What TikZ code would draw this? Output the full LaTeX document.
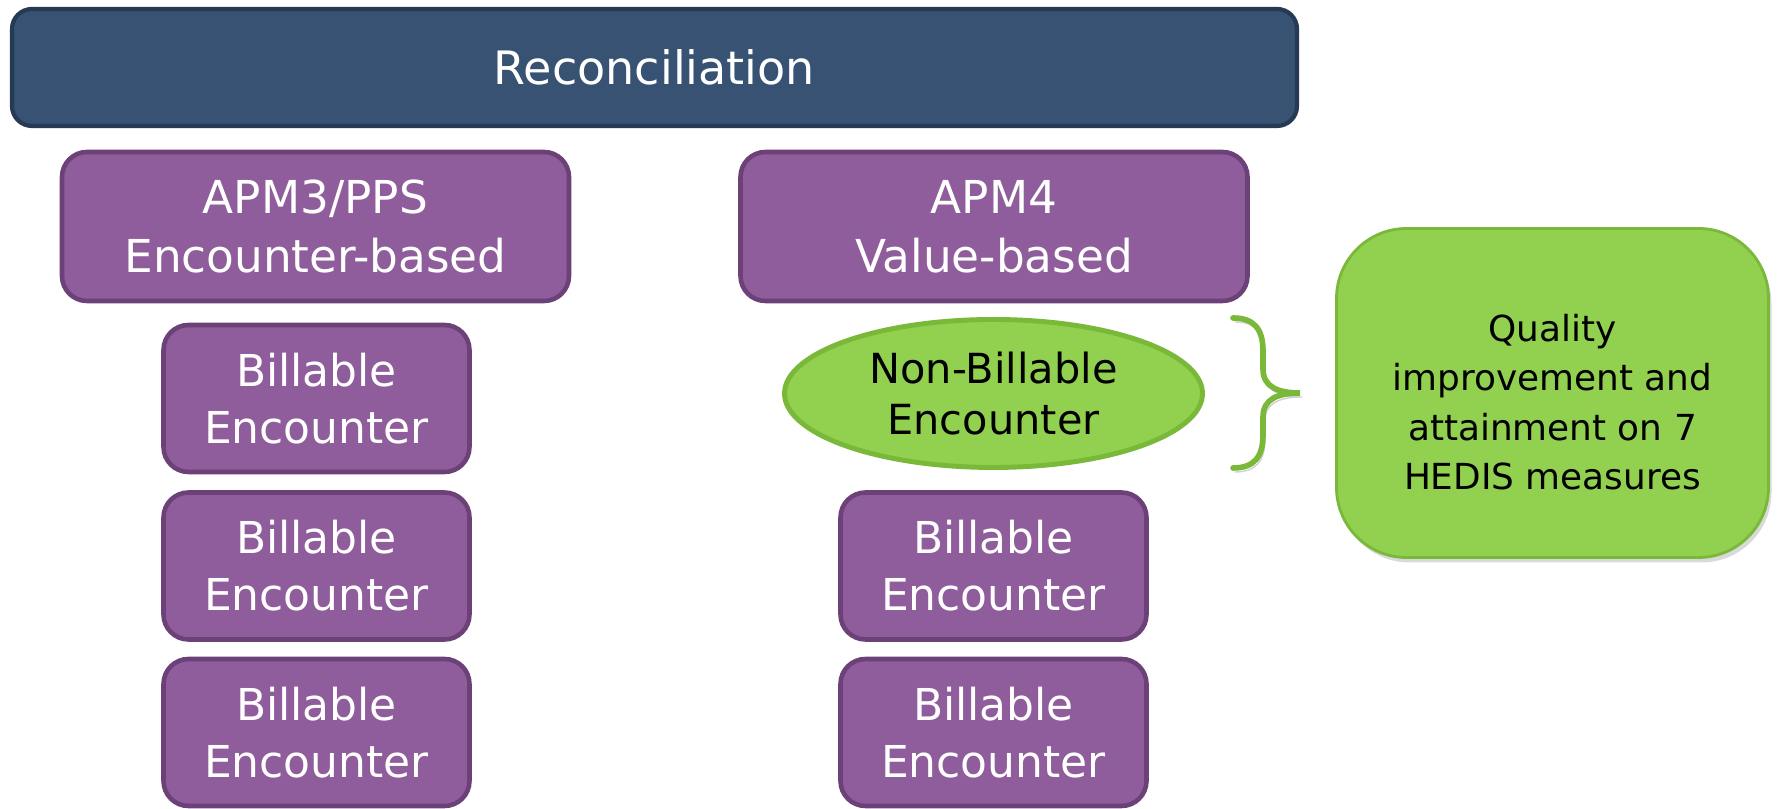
\documentclass[tikz,border=0pt]{standalone}
\usepackage{fontspec}
\setmainfont{DejaVu Sans}
\usetikzlibrary{shapes.geometric, shadows}

\definecolor{reconblue}{HTML}{375273}
\definecolor{reconedge}{HTML}{263A53}
\definecolor{apmpurple}{HTML}{8F5C9C}
\definecolor{apmedge}{HTML}{6B4177}
\definecolor{hedisgreen}{HTML}{92D050}
\definecolor{hedisedge}{HTML}{7AB83A}

\begin{document}
\begin{tikzpicture}[recon/.style = {draw=reconedge, fill=reconblue, line width=1.2pt, rounded corners=0.2cm, text=white, font=\fontsize{13.1}{16}\selectfont, minimum width=12.85cm, minimum height=1.17cm},
        apm/.style = {draw=apmedge, fill=apmpurple, line width=1.3pt, rounded corners=0.25cm, text=white, align=center, font=\fontsize{12.9}{16.8}\selectfont, minimum width=5.07cm, minimum height=1.49cm},
        bill/.style = {apm, font=\fontsize{12.5}{16.2}\selectfont, minimum width=3.06cm, minimum height=1.47cm},
        nonbill/.style = {ellipse, draw=hedisedge, fill=hedisgreen, line width=1.4pt, inner sep=0pt, align=center, font=\fontsize{11.8}{14.5}\selectfont, minimum width=4.18cm, minimum height=1.48cm},
        quality/.style = {draw=hedisedge, fill=hedisgreen, line width=0.8pt, rounded corners=0.7cm, align=center, font=\fontsize{10.2}{14.1}\selectfont, minimum width=4.32cm, minimum height=3.29cm, drop shadow={shadow xshift=0.03cm, shadow yshift=-0.05cm, opacity=0.3}} ]
        \useasboundingbox (0, 0) rectangle (17.77, 8.09);

        \node at (6.545, 7.415) [recon] (rec) {Reconciliation};
        \node at (3.155, 5.825) [apm] (apm3) {APM3/PPS\\Encounter-based};
        \node at (9.94, 5.825) [apm] (apm4) {APM4\\Value-based};

        \node at (3.165, 4.105) [bill] (b1) {Billable\\Encounter};
        \node at (3.165, 2.43) [bill] (b2) {Billable\\Encounter};
        \node at (3.165, 0.765) [bill] (b3) {Billable\\Encounter};

        \node at (9.935, 4.155) [nonbill] (nb) {Non-Billable\\Encounter};
        \node at (9.935, 2.43) [bill] (b4) {Billable\\Encounter};
        \node at (9.935, 0.765) [bill] (b5) {Billable\\Encounter};

        \node at (15.525, 4.16) [quality] (q) {\rule{0pt}{13pt}Quality\\improvement and\\attainment on 7\\HEDIS measures};

        \coordinate (brtop) at (12.33, 4.91);
        \coordinate (brtip) at (13.00, 4.16);
        \coordinate (brbot) at (12.33, 3.41);

        \draw[hedisedge, line width=1.6pt, line cap=round, preaction={draw=black!18, transform canvas={xshift=0.02cm, yshift=-0.04cm}}]
        (brtop) .. controls (12.54, 4.91) and (12.63, 4.80) .. (12.63, 4.58) -- (12.63, 4.40)
        .. controls (12.63, 4.22) and (12.78, 4.16) .. (brtip)
        .. controls (12.78, 4.16) and (12.63, 4.10) .. (12.63, 3.92) -- (12.63, 3.74)
        .. controls (12.63, 3.52) and (12.54, 3.41) .. (brbot);

    \end{tikzpicture}
\end{document}
